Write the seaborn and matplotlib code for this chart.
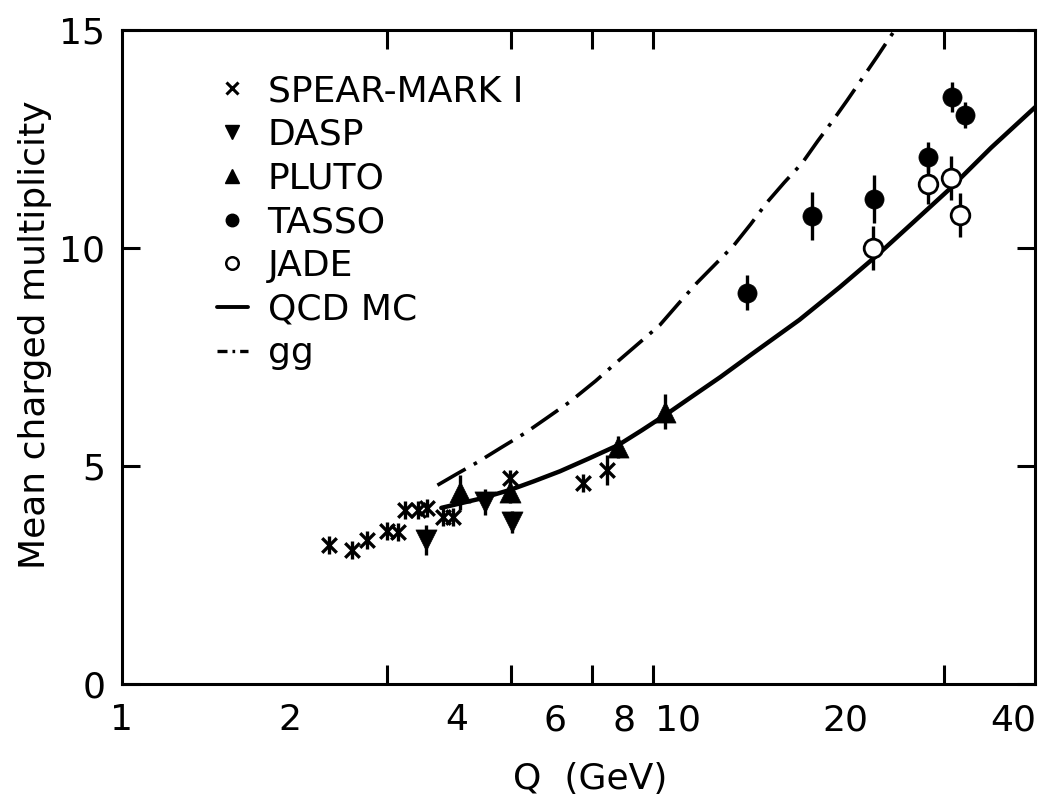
import numpy as np
import pandas as pd
import matplotlib
matplotlib.use("Agg")
import matplotlib.pyplot as plt
import seaborn as sns
from matplotlib.lines import Line2D
from matplotlib.ticker import FixedLocator, NullFormatter, FixedFormatter

# ---------------- data ----------------
spear_q = [2.36, 2.59, 2.76, 2.99, 3.14, 3.22, 3.40, 3.54, 3.77, 3.93, 4.98, 6.73, 7.44]
spear_n = [3.19, 3.07, 3.30, 3.51, 3.49, 3.99, 3.99, 4.04, 3.83, 3.83, 4.72, 4.61, 4.91]
spear_e = [0.2, 0.2, 0.2, 0.2, 0.2, 0.2, 0.2, 0.2, 0.2, 0.2, 0.2, 0.2, 0.35]

dasp_q = [3.52, 4.49, 5.02]
dasp_n = [3.30, 4.17, 3.72]
dasp_e = [0.35, 0.30, 0.25]

pluto_q = [4.05, 4.98, 7.79, 9.46]
pluto_n = [4.40, 4.40, 5.44, 6.25]
pluto_e = [0.40, 0.25, 0.25, 0.40]

tasso_q = [13.28, 17.38, 22.47, 28.1, 31.0, 32.8]
tasso_n = [8.97, 10.73, 11.12, 12.09, 13.46, 13.05]
tasso_e = [0.40, 0.55, 0.55, 0.35, 0.35, 0.30]

jade_q = [22.4, 28.1, 30.9, 32.1]
jade_n = [10.0, 11.47, 11.6, 10.76]
jade_e = [0.50, 0.45, 0.50, 0.50]

qcd_q = [3.75, 4.4, 4.98, 5.5, 6.13, 6.9, 7.8, 8.6, 9.5, 10.6, 11.9, 13.5, 16.5, 19.5, 22.8, 26.5, 30.6, 36.5, 43.8]
qcd_n = [4.04, 4.25, 4.45, 4.65, 4.88, 5.17, 5.48, 5.82, 6.18, 6.6, 7.04, 7.55, 8.35, 9.1, 9.84, 10.6, 11.33, 12.3, 13.23]

gg_q = [3.69, 4.0, 4.36, 4.8, 5.31, 5.8, 6.38, 7.1, 7.8, 8.5, 9.26, 10.0, 10.8, 11.7, 12.6, 13.5, 14.4, 15.5, 16.7, 17.8, 19.0, 20.1, 21.2, 22.8, 24.5]
gg_n = [4.56, 4.82, 5.09, 5.42, 5.76, 6.1, 6.47, 6.95, 7.41, 7.82, 8.23, 8.72, 9.2, 9.65, 10.07, 10.55, 11.03, 11.5, 11.95, 12.45, 12.94, 13.38, 13.81, 14.4, 15.0]

x_tick_vals = [1, 2, 4, 6, 8, 10, 20, 40]
x_tick_labels = ["1", "2", "4", "6", "8", "10", "20", "40"]
x_tickmark_vals = [2, 3, 4, 5, 6, 7, 8, 9, 10, 20, 30]
y_tick_vals = [0, 5, 10, 15]

labels = ["SPEAR-MARK I", "DASP", "PLUTO", "TASSO", "JADE", "QCD MC", "gg"]

# ---------------- styling ----------------
sns.set_theme(style="ticks")
plt.rcParams['font.family'] = ['DejaVu Sans']
plt.rcParams['axes.linewidth'] = 2.2
plt.rcParams['axes.edgecolor'] = 'black'
plt.rcParams['text.color'] = 'black'
plt.rcParams['axes.labelcolor'] = 'black'
plt.rcParams['xtick.color'] = 'black'
plt.rcParams['ytick.color'] = 'black'
FS = 26

fig = plt.figure(figsize=(10.57, 8.02), dpi=100)
ax = fig.add_axes([0.1154, 0.1471, 0.8638, 0.8155])
ax.set_xscale('log')

# curves
df_qcd = pd.DataFrame({"Q": qcd_q, "N": qcd_n})
df_gg = pd.DataFrame({"Q": gg_q, "N": gg_n})
sns.lineplot(data=df_qcd, x="Q", y="N", ax=ax, color="black", lw=3.2,
             sort=False, estimator=None)
sns.lineplot(data=df_gg, x="Q", y="N", ax=ax, color="black", lw=2.6,
             sort=False, estimator=None, linestyle=(0, (9, 2.6, 1.0, 2.6)))

# error bars
for q, n, e in [(spear_q, spear_n, spear_e), (dasp_q, dasp_n, dasp_e),
                (pluto_q, pluto_n, pluto_e), (tasso_q, tasso_n, tasso_e),
                (jade_q, jade_n, jade_e)]:
    ax.errorbar(q, n, yerr=e, fmt='none', ecolor='black', elinewidth=2.4,
                capsize=0, zorder=3)

# markers
sns.scatterplot(x=spear_q, y=spear_n, ax=ax, marker='x', s=110, color='black',
                linewidth=2.4, zorder=4)
sns.scatterplot(x=dasp_q, y=dasp_n, ax=ax, marker='v', s=230, color='black',
                edgecolor='black', linewidth=0.5, zorder=4)
sns.scatterplot(x=pluto_q, y=pluto_n, ax=ax, marker='^', s=230, color='black',
                edgecolor='black', linewidth=0.5, zorder=4)
sns.scatterplot(x=tasso_q, y=tasso_n, ax=ax, marker='o', s=190, color='black',
                edgecolor='black', linewidth=0.5, zorder=4)
sns.scatterplot(x=jade_q, y=jade_n, ax=ax, marker='o', s=180, color='white',
                edgecolor='black', linewidth=2.0, zorder=4)

# axes limits and ticks
ax.set_xlim(1, 43.77)
ax.set_ylim(0, 15)

ax.xaxis.set_major_locator(FixedLocator(x_tick_vals))
ax.xaxis.set_major_formatter(FixedFormatter(x_tick_labels))
ax.xaxis.set_minor_locator(FixedLocator(x_tickmark_vals))
ax.xaxis.set_minor_formatter(NullFormatter())
ax.tick_params(axis='x', which='major', length=0, pad=14, labelsize=FS,
               colors='black')
ax.tick_params(axis='x', which='minor', direction='in', length=14, width=2.2,
               top=True, bottom=True, colors='black')

ax.set_yticks(y_tick_vals)
ax.set_yticklabels([str(v) for v in y_tick_vals])
ax.tick_params(axis='y', which='major', direction='in', length=13, width=2.2,
               left=True, right=True, pad=12, labelsize=FS, colors='black')
ax.tick_params(axis='y', which='minor', length=0)

ax.set_xlabel("Q  (GeV)", fontsize=FS, color='black')
ax.set_ylabel("Mean charged multiplicity", fontsize=FS, color='black')
ax.xaxis.set_label_coords((590 - 122) / 913, -(762 - 684) / 654)
ax.yaxis.set_label_coords(-(122 - 52) / 913, (684 - 335) / 654)
ax.grid(False)
for sp in ax.spines.values():
    sp.set_visible(True)
    sp.set_linewidth(2.2)
    sp.set_color('black')

# legend
handles = [
    Line2D([], [], marker='x', ls='none', color='black', markersize=8, mew=2.2),
    Line2D([], [], marker='v', ls='none', color='black', markersize=10),
    Line2D([], [], marker='^', ls='none', color='black', markersize=10),
    Line2D([], [], marker='o', ls='none', color='black', markersize=9),
    Line2D([], [], marker='o', ls='none', markerfacecolor='white',
           markeredgecolor='black', markersize=9, mew=1.8),
    Line2D([], [], color='black', lw=2.8),
    Line2D([], [], color='black', lw=2.4, linestyle=(0, (3, 1.5, 0.8, 1.5))),
]
leg = ax.legend(handles, labels, loc='upper left',
                bbox_to_anchor=(217 / 1057, 1 - 74 / 802),
                bbox_transform=fig.transFigure, frameon=False,
                fontsize=FS, handlelength=0.85, handletextpad=0.55,
                labelspacing=0.27, borderpad=0, borderaxespad=0)
for t in leg.get_texts():
    t.set_color('black')

fig.savefig("out.png", dpi=100, facecolor='white')
